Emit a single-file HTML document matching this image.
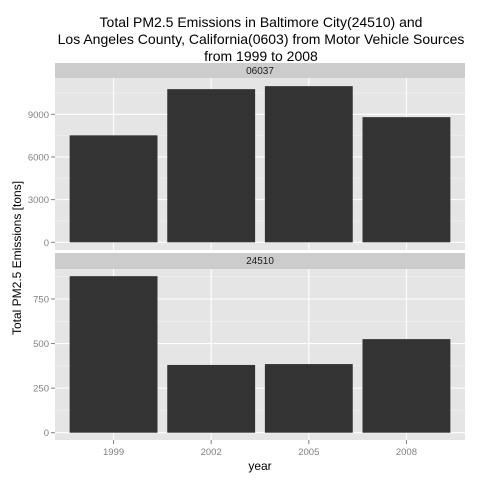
<!DOCTYPE html>
<html><head><meta charset="utf-8"><style>
body{margin:0;background:#fff}
svg{display:block;font-family:"Liberation Sans",Arial,sans-serif}
</style></head><body>
<svg id="chart" width="480" height="480">
<g font-size="14" text-anchor="middle" fill="#000">
<text x="261" y="27">Total PM2.5 Emissions in Baltimore City(24510) and</text>
<text x="261" y="44">Los Angeles County, California(0603) from Motor Vehicle Sources</text>
<text x="261" y="61">from 1999 to 2008</text>
</g>
<text transform="translate(21,258) rotate(-90)" text-anchor="middle" font-size="12">Total PM2.5  Emissions [tons]</text>
<text x="260" y="470" text-anchor="middle" font-size="12">year</text>
</svg>
<script>
const years = ["1999","2002","2005","2008"];
const la = [7520, 10770, 10980, 8800];
const balt = [878, 380, 385, 525];
const laTicks = [0,3000,6000,9000];
const baltTicks = [0,250,500,750];
const NS="http://www.w3.org/2000/svg";
const svg=document.getElementById('chart');
const X0=55,X1=465,unit=(X1-X0)/4.2;
function xC(i){return X0+(i+0.6)*unit;}
function mk(t,a,p){const e=document.createElementNS(NS,t);for(const k in a)e.setAttribute(k,a[k]);(p||svg).appendChild(e);return e;}
function panel(name,label,vals,ticks,stripTop,top,bottom,zeroY,tickY,tickVal,showX){
  const y=v=>zeroY-(v/tickVal)*(zeroY-tickY);
  const g=mk('g',{});
  
  
  const st=mk('rect',{x:X0,y:stripTop,width:X1-X0,height:top-stripTop,fill:'#cccccc'},g);
  
  
  const stt=mk('text',{x:(X0+X1)/2,y:stripTop+11,'text-anchor':'middle','font-size':'10',fill:'#1a1a1a'},g);
  stt.textContent=label;
  
  
  const bg=mk('rect',{x:X0,y:top,width:X1-X0,height:bottom-top,fill:'#e5e5e5'},g);
  
  
  const step=ticks[1]-ticks[0];
  for(let v=ticks[0]-step/2;v<=ticks[ticks.length-1]+step;v+=step){const yy=y(v);if(yy>top&&yy<bottom)mk('line',{x1:X0,x2:X1,y1:yy,y2:yy,stroke:'#f2f2f2','stroke-width':0.6},g);}
  ticks.forEach(v=>{const yy=y(v);mk('line',{x1:X0,x2:X1,y1:yy,y2:yy,stroke:'#fff','stroke-width':1.1},g);
    mk('line',{x1:X0-4,x2:X0,y1:yy,y2:yy,stroke:'#7f7f7f'},g);
    const t=mk('text',{x:X0-6,y:yy+3.5,'text-anchor':'end','font-size':'9.5',fill:'#7f7f7f'},g);t.textContent=v;
    
    });
  years.forEach((yr,i)=>{mk('line',{x1:xC(i),x2:xC(i),y1:top,y2:bottom,stroke:'#fff','stroke-width':1.1},g);});
  vals.forEach((v,i)=>{const w=0.9*unit;const b=mk('rect',{x:xC(i)-w/2,y:y(v),width:w,height:zeroY-y(v),fill:'#333333'},g);
    
    });
  if(showX){years.forEach((yr,i)=>{mk('line',{x1:xC(i),x2:xC(i),y1:bottom,y2:bottom+4,stroke:'#7f7f7f'},g);
    const t=mk('text',{x:xC(i),y:bottom+15,'text-anchor':'middle','font-size':'9.5',fill:'#7f7f7f'},g);t.textContent=yr;
    
    });}
}
panel('panel-06037','06037',la,laTicks,63,78,250,242.3,114.3,9000,false);
panel('panel-24510','24510',balt,baltTicks,253,269,440,432.7,299,750,true);
</script>
</body></html>
